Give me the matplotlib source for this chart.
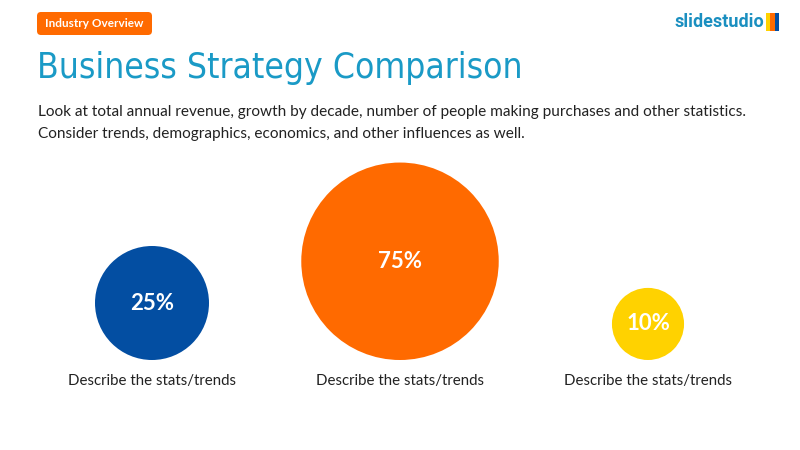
import numpy as np
import matplotlib.pyplot as plt
from matplotlib.patches import Circle, FancyBboxPatch, Rectangle

# Data
values = [25, 75, 10]
labels = ['25%', '75%', '10%']
captions = ['Describe the stats/trends'] * 3
colors = ['#034ea2', '#ff6a00', '#ffd200']

title = 'Business Strategy Comparison'
subtitle = ('Look at total annual revenue, growth by decade, number of people making purchases and other statistics.\n'
            'Consider trends, demographics, economics, and other influences as well.')

# Canvas in pixel coords
fig = plt.figure(figsize=(8, 4.5), dpi=100)
ax = fig.add_axes([0, 0, 1, 1])
ax.set_xlim(0, 800)
ax.set_ylim(450, 0)
ax.set_aspect('equal')
ax.axis('off')

# Badge
ax.add_patch(FancyBboxPatch((37, 12), 115, 23, boxstyle='round,pad=0,rounding_size=4',
                            fc='#ff6a00', ec='none'))
ax.text(94.5, 23.5, 'Industry Overview', color='white', fontsize=8.5, fontweight='bold',
        ha='center', va='center', family='Lato')

# Logo
ax.text(764, 22, 'slidestudio', color='#1a8fc0', fontsize=13, fontweight='bold',
        ha='right', va='center', family='Roboto')
for i, c in enumerate(['#ffd200', '#ff6a00', '#034ea2']):
    ax.add_patch(Rectangle((766 + i * 4.3, 13), 4.3, 18, fc=c, ec='none'))

# Title and subtitle
ax.text(37, 68, title, color='#1a9ac6', fontsize=25.4, ha='left', va='center',
        family='DejaVu Sans', fontstretch='condensed')
ax.text(38, 123, subtitle, color='#222222', fontsize=11.05, ha='left', va='center',
        linespacing=1.75, family='Lato')

# Circles: area proportional, bottoms aligned
centers_x = [152, 400, 648]
base_y = 360
scale = 57 / np.sqrt(25)
for x, v, lab, cap, c in zip(centers_x, values, labels, captions, colors):
    r = scale * np.sqrt(v)
    ax.add_patch(Circle((x, base_y - r), r, fc=c, ec='none'))
    ax.text(x, base_y - r, lab, color='white', fontsize=16, fontweight='bold',
            ha='center', va='center', family='Lato')
    ax.text(x, 381, cap, color='#222222', fontsize=10.8, ha='center', va='center',
            family='Lato')

plt.savefig('out.png', dpi=100)
